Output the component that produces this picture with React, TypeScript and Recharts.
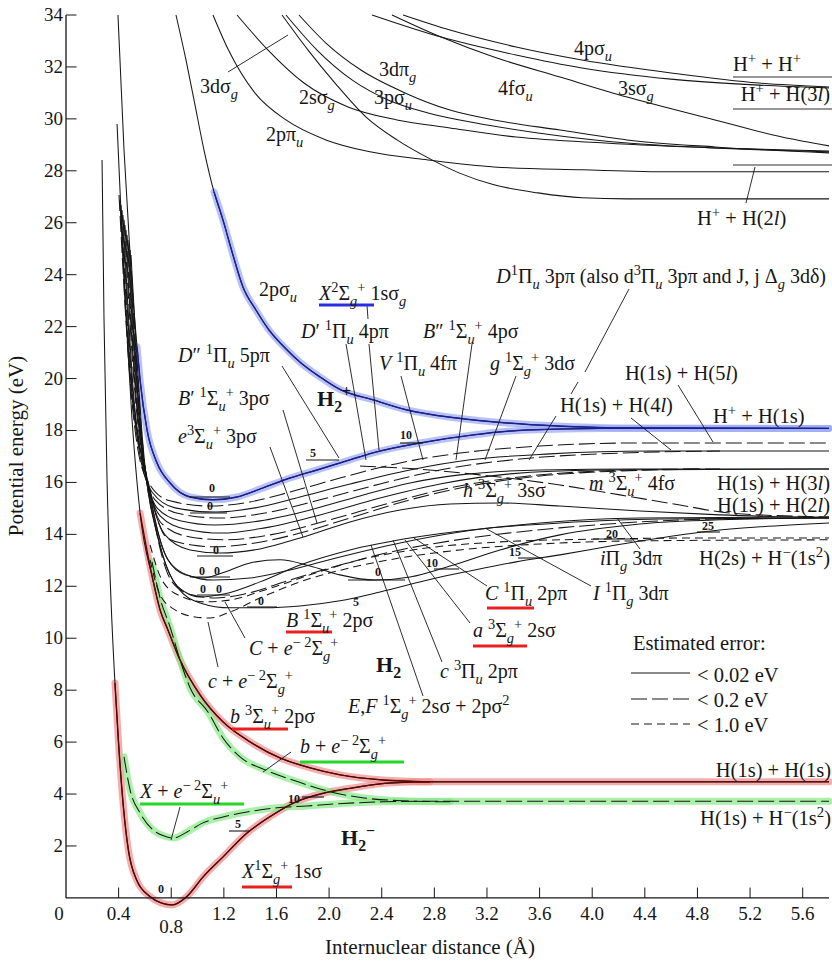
import React from "react";
import { LineChart, Line, XAxis, YAxis, ReferenceLine } from "recharts";

const FONT = "'Liberation Serif', 'Times New Roman', Times, serif";
const INK = "#161616";
const MED = "16 5"; // < 0.2 eV
const SHORT = "8 5"; // < 1.0 eV

// Potential curves as [R (Å), E (eV)].
// H2 ground state X 1Σg+ 1sσ
const h2X = [[0.274,28.42],[0.289,22.26],[0.312,16.1],[0.342,11.47],[0.372,8.28],[0.398,6.08],[0.436,3.52],[0.474,1.85],[0.537,0.69],[0.639,0.05],[0.727,-0.2],[0.806,-0.27],[0.918,0.05],[1.044,0.82],[1.196,1.59],[1.374,2.49],[1.551,3.13],[1.754,3.71],[1.956,4.03],[2.159,4.22],[2.478,4.43],[2.767,4.47],[5.8,4.47]];
// b 3Σu+ 2pσ (repulsive)
const h2b = [[0.388,29.8],[0.448,23.03],[0.502,18.41],[0.563,14.82],[0.661,12.24],[0.715,11.09],[0.775,10.32],[0.867,9.16],[1.019,7.82],[1.193,6.78],[1.399,6.01],[1.627,5.39],[1.855,5.01],[2.083,4.74],[2.41,4.54],[2.767,4.47]];
// H2- resonances
const anionX = [[0.441,5.43],[0.487,4.16],[0.563,3.27],[0.661,2.62],[0.768,2.35],[0.821,2.31],[0.92,2.54],[1.041,2.89],[1.193,3.12],[1.376,3.31],[1.604,3.47],[1.832,3.54],[2.052,3.62],[2.41,3.7],[2.767,3.72],[5.8,3.72]];
const anionB = [[0.654,12.94],[0.715,11.55],[0.791,10.44],[0.867,9.16],[0.943,8.09],[1.079,7.16],[1.193,6.16],[1.323,5.43],[1.513,4.93],[1.764,4.47],[2.014,4.08],[2.265,3.85],[2.554,3.74],[2.919,3.7]];
// H2+ states
const ion1sg = [[0.395,34],[0.441,28.8],[0.494,24.18],[0.54,21.22],[0.563,19.95],[0.616,18.02],[0.692,16.75],[0.791,15.98],[0.943,15.44],[1.117,15.33],[1.3,15.44],[1.498,15.79],[1.703,16.17],[1.908,16.48],[2.159,16.87],[2.334,17.14],[2.691,17.52],[3.094,17.83],[3.504,18.02],[4.059,18.08],[5.8,18.08]];
const ion2psu = [[0.836,34],[0.912,32.27],[0.973,30.73],[1.049,28.8],[1.125,27.19],[1.193,26.11],[1.269,24.76],[1.345,23.53],[1.444,22.64],[1.543,21.87],[1.665,21.18],[1.786,20.6],[1.931,20.06],[2.09,19.56],[2.334,19.18],[2.592,18.79],[2.972,18.48],[3.352,18.29],[3.732,18.17],[4.211,18.1],[5.8,18.08]];
const ion2ppu = [[1.117,34],[1.235,32.65],[1.437,30.99],[1.672,29.96],[1.976,29.19],[2.311,28.73],[2.752,28.42],[3.253,28.15],[3.922,28.04],[4.599,27.96],[5.8,27.96]];
const ion2ssg = [[1.3,34],[1.536,32.65],[1.809,31.38],[2.144,30.46],[2.516,29.96],[2.919,29.65],[3.421,29.3],[4.097,29.07],[4.933,28.88],[5.8,28.76]];
const ion3dsg = [[1.642,34],[1.84,32.65],[2.045,31.38],[2.281,30.07],[2.516,29.19],[2.782,28.42],[2.987,27.92],[3.253,27.46],[3.588,27.15],[3.922,26.96],[4.265,26.92],[5.8,26.92]];
const ion3psu = [[1.672,34],[1.908,32.65],[2.174,31.5],[2.448,30.73],[2.752,30.23],[3.117,29.84],[3.588,29.46],[4.265,29.07],[4.933,28.88],[5.8,28.73]];
const ion3dpg = [[1.771,34],[1.976,32.92],[2.242,31.88],[2.577,31],[2.919,30.34],[3.253,29.96],[3.755,29.57],[4.265,29.19],[4.933,28.92],[5.8,28.69]];
const ion4psu = [[2.326,34],[2.851,33.15],[3.421,32.46],[3.922,31.96],[4.599,31.53],[5.268,31.3],[5.8,31.19]];
const ion4fsu = [[2.478,34],[2.851,33.15],[3.253,32.38],[3.755,31.61],[4.265,30.84],[4.933,29.96],[5.443,29.3],[5.8,28.96]];
const ion3ssg = [[2.562,34],[2.919,33.42],[3.421,32.77],[3.922,32.27],[4.599,31.77],[5.268,31.38],[5.8,31.23]];
// H2 Rydberg states, n = 5, 4, 3
const ryD5 = [[0.403,27.07],[0.487,19.95],[0.547,17.25],[0.639,15.9],[0.791,15.29],[1.095,15.09],[1.399,15.25],[1.703,15.63],[2.083,16.17],[2.539,16.75],[2.995,17.13],[3.603,17.4],[4.363,17.52],[5.8,17.52]];
const ryD4 = [[0.41,26.88],[0.494,19.75],[0.563,17.02],[0.654,15.63],[0.829,15.02],[1.133,14.86],[1.437,15.02],[1.779,15.44],[2.159,15.94],[2.615,16.48],[3.071,16.87],[3.679,17.1],[4.439,17.21],[5.8,17.21]];
const ryB4 = [[0.418,26.68],[0.502,19.56],[0.578,16.79],[0.677,15.33],[0.867,14.79],[1.171,14.63],[1.513,14.82],[1.931,15.33],[2.387,15.94],[2.843,16.48],[3.451,16.9],[4.211,17.13],[4.971,17.21]];
const ryD3 = [[0.426,26.49],[0.509,19.37],[0.593,16.56],[0.692,15.02],[0.867,14.52],[1.133,14.36],[1.475,14.52],[1.855,14.94],[2.235,15.48],[2.615,15.98],[2.995,16.29],[3.603,16.48],[4.363,16.52],[5.8,16.52]];
const ryB3 = [[0.433,26.3],[0.517,19.18],[0.608,16.25],[0.715,14.71],[0.905,14.21],[1.186,14.05],[1.513,14.25],[1.931,14.75],[2.387,15.4],[2.843,15.94],[3.375,16.33],[4.059,16.48],[5.8,16.52]];
const ryE3 = [[0.441,26.11],[0.532,18.98],[0.623,15.94],[0.73,14.4],[0.943,13.9],[1.209,13.79],[1.551,13.98],[2.007,14.56],[2.463,15.21],[2.919,15.79],[3.451,16.21],[4.059,16.44],[4.819,16.52]];
const ryH3 = [[0.448,25.91],[0.54,18.79],[0.639,15.63],[0.753,13.98],[0.943,13.4],[1.171,13.28],[1.475,13.44],[1.779,13.86],[2.159,14.48],[2.539,14.94],[2.919,15.17],[3.299,15.21],[3.755,15.09],[4.363,14.9],[4.971,14.75],[5.8,14.63]];
const ryG3 = [[0.456,25.72],[0.547,18.6],[0.654,15.4],[0.768,13.86],[0.958,13.59],[1.133,13.52],[1.437,13.67],[1.779,14.05],[2.159,14.63],[2.615,15.33],[3.071,15.86],[3.603,16.25],[4.211,16.44],[4.971,16.52]];
const ryM = [[2.235,16.63],[2.539,16.56],[3.147,16.29],[3.755,15.9],[4.211,15.52],[4.667,15.13],[5.047,14.82],[5.8,14.67]];
// n = 2 states
const stC = [[0.464,25.53],[0.555,18.41],[0.661,14.94],[0.775,13.02],[0.943,12.4],[1.117,12.24],[1.399,12.32],[1.703,12.63],[2.083,13.13],[2.539,13.67],[2.995,14.09],[3.603,14.44],[4.363,14.63],[5.8,14.67]];
const stEF = [[0.471,25.34],[0.563,18.21],[0.669,14.75],[0.775,13.02],[0.905,12.44],[1.041,12.32],[1.209,12.55],[1.399,12.9],[1.627,13.02],[1.855,12.78],[2.083,12.44],[2.349,12.24],[2.615,12.36],[2.919,12.78],[3.299,13.4],[3.755,13.98],[4.363,14.4],[4.971,14.56],[5.8,14.63]];
const stA = [[0.479,25.14],[0.57,17.94],[0.677,14.36],[0.791,12.44],[0.905,11.78],[1.019,11.59],[1.209,11.71],[1.475,12.17],[1.779,12.82],[2.159,13.4],[2.615,13.86],[3.147,14.21],[3.755,14.44],[4.515,14.59],[5.8,14.63]];
const stc = [[0.487,24.95],[0.578,17.71],[0.692,13.98],[0.806,12.17],[0.958,11.67],[1.133,11.55],[1.361,11.71],[1.703,12.24],[2.083,12.82],[2.539,13.4],[3.071,13.86],[3.755,14.25],[4.515,14.52],[5.276,14.63]];
const stB = [[0.494,24.76],[0.585,17.44],[0.715,13.59],[0.851,11.94],[1.019,11.36],[1.247,11.17],[1.513,11.17],[1.779,11.24],[2.083,11.44],[2.387,11.78],[2.782,12.28],[3.071,12.59],[3.421,12.94],[3.755,13.21],[4.181,13.59],[4.515,13.86],[4.903,14.13],[5.276,14.29],[5.8,14.44]];
const resC = [[0.639,13.59],[0.73,12.24],[0.867,11.63],[1.057,11.4],[1.247,11.47],[1.513,11.86],[1.855,12.44],[2.235,13.02],[2.691,13.44],[3.299,13.71],[4.059,13.82],[4.819,13.86],[5.8,13.86]];
const resc = [[0.639,13.02],[0.715,11.67],[0.829,11.09],[0.981,10.82],[1.095,10.78],[1.247,11.01],[1.475,11.55],[1.779,12.17],[2.159,12.71],[2.539,13.09],[2.995,13.4],[3.603,13.63],[4.363,13.75],[5.8,13.79]];

const xTicks = [0, 0.4, 0.8, 1.2, 1.6, 2.0, 2.4, 2.8, 3.2, 3.6, 4.0, 4.4, 4.8, 5.2, 5.6];
const yTicks = [2, 4, 6, 8, 10, 12, 14, 16, 18, 20, 22, 24, 26, 28, 30, 32, 34];

const rows = (pts: number[][]) => pts.map(([r, e]) => ({ r, e }));

const curves: { id: string; pts: number[][]; dash?: string }[] = [
  { id: "ion2ppu", pts: ion2ppu }, { id: "ion2ssg", pts: ion2ssg }, { id: "ion3dsg", pts: ion3dsg },
  { id: "ion3psu", pts: ion3psu }, { id: "ion3dpg", pts: ion3dpg }, { id: "ion4psu", pts: ion4psu },
  { id: "ion4fsu", pts: ion4fsu }, { id: "ion3ssg", pts: ion3ssg },
  { id: "ryD5", pts: ryD5, dash: MED }, { id: "ryD4", pts: ryD4 }, { id: "ryB4", pts: ryB4, dash: MED },
  { id: "ryD3", pts: ryD3 }, { id: "ryB3", pts: ryB3 }, { id: "ryE3", pts: ryE3, dash: MED },
  { id: "ryH3", pts: ryH3 }, { id: "ryG3", pts: ryG3, dash: MED }, { id: "ryM", pts: ryM, dash: MED },
  { id: "stC", pts: stC }, { id: "stEF", pts: stEF }, { id: "stA", pts: stA },
  { id: "stc", pts: stc, dash: MED }, { id: "stB", pts: stB },
  { id: "resC", pts: resC, dash: SHORT }, { id: "resc", pts: resc, dash: SHORT },
  { id: "h2X", pts: h2X }, { id: "h2b", pts: h2b },
  { id: "ion1sg", pts: ion1sg }, { id: "ion2psu", pts: ion2psu },
  { id: "anionX", pts: anionX, dash: MED }, { id: "anionB", pts: anionB, dash: MED },
];

// coloured marker highlights
const highlights = [
  { id: "hX", pts: h2X.filter((p) => p[0] >= 0.372), color: "#f08a8a", line: "#5a0606" },
  { id: "hb", pts: h2b.filter((p) => p[0] >= 0.563), color: "#f08a8a", line: "#5a0606" },
  { id: "hAX", pts: anionX, color: "#86e886", line: "" },
  { id: "hAB", pts: anionB, color: "#86e886", line: "" },
  { id: "h1s", pts: ion1sg.filter((p) => p[0] >= 0.54), color: "#98a6f2", line: "#1b1f96" },
  { id: "h2p", pts: ion2psu.filter((p) => p[0] >= 1.125), color: "#98a6f2", line: "#1b1f96" },
];

type Lbl = { x: number; y: number; s: string; a?: "end"; b?: boolean; f?: number };
const labels: Lbl[] = [
  { x: 200, y: 93, s: "3dσ_{*g*}" },
  { x: 299, y: 104, s: "2sσ_{*g*}" },
  { x: 374, y: 104, s: "3pσ_{*u*}" },
  { x: 379, y: 76, s: "3dπ_{*g*}" },
  { x: 266, y: 141, s: "2pπ_{*u*}" },
  { x: 498, y: 95, s: "4fσ_{*u*}" },
  { x: 618, y: 95, s: "3sσ_{*g*}" },
  { x: 574, y: 55, s: "4pσ_{*u*}" },
  { x: 733, y: 71, s: "H^{+} + H^{+}", f: 20.5 },
  { x: 830, y: 101, s: "H^{+} + H(3*l*)", a: "end", f: 20.5 },
  { x: 697, y: 225, s: "H^{+} + H(2*l*)", f: 20.5 },
  { x: 259, y: 296, s: "2pσ_{*u*}" },
  { x: 319, y: 300, s: "*X*^{2}Σ_{*g*}^{+} 1sσ_{*g*}" },
  { x: 301, y: 338, s: "*D*′ ^{1}Π_{*u*} 4pπ" },
  { x: 423, y: 338, s: "*B*″ ^{1}Σ_{*u*}^{+} 4pσ" },
  { x: 178, y: 362, s: "*D*″ ^{1}Π_{*u*} 5pπ" },
  { x: 379, y: 370, s: "*V* ^{1}Π_{*u*} 4fπ" },
  { x: 490, y: 370, s: "*g* ^{1}Σ_{*g*}^{+} 3dσ" },
  { x: 826, y: 283, s: "*D*^{1}Π_{*u*} 3pπ (also d^{3}Π_{*u*} 3pπ and J, j Δ_{*g*} 3dδ)", a: "end", f: 20 },
  { x: 178, y: 405, s: "*B*′ ^{1}Σ_{*u*}^{+} 3pσ" },
  { x: 317, y: 406, s: "H_{2}^{+}", b: true },
  { x: 625, y: 380, s: "H(1s) + H(5*l*)", f: 20.5 },
  { x: 560, y: 412, s: "H(1s) + H(4*l*)", f: 20.5 },
  { x: 713, y: 423, s: "H^{+} + H(1s)", f: 20.5 },
  { x: 178, y: 443, s: "*e*^{3}Σ_{*u*}^{+} 3pσ" },
  { x: 463, y: 497, s: "*h* ^{3}Σ_{*g*}^{+} 3sσ" },
  { x: 589, y: 490, s: "*m* ^{3}Σ_{*u*}^{+} 4fσ" },
  { x: 830, y: 490, s: "H(1s) + H(3*l*)", a: "end", f: 20.5 },
  { x: 830, y: 512, s: "H(1s) + H(2*l*)", a: "end", f: 20.5 },
  { x: 600, y: 565, s: "*i*Π_{*g*} 3dπ" },
  { x: 830, y: 565, s: "H(2s) + H^{−}(1s^{2})", a: "end", f: 20.5 },
  { x: 485, y: 600, s: "*C* ^{1}Π_{*u*} 2pπ" },
  { x: 593, y: 600, s: "*I* ^{1}Π_{*g*} 3dπ" },
  { x: 286, y: 627, s: "*B* ^{1}Σ_{*u*}^{+} 2pσ" },
  { x: 473, y: 637, s: "*a* ^{3}Σ_{*g*}^{+} 2sσ" },
  { x: 249, y: 655, s: "*C* + *e*^{− 2}Σ_{*g*}^{+}" },
  { x: 376, y: 672, s: "H_{2}", b: true },
  { x: 440, y: 678, s: "*c* ^{3}Π_{*u*} 2pπ" },
  { x: 208, y: 688, s: "*c* + *e*^{− 2}Σ_{*g*}^{+}" },
  { x: 348, y: 713, s: "*E*,*F* ^{1}Σ_{*g*}^{+} 2sσ + 2pσ^{2}" },
  { x: 230, y: 723, s: "*b* ^{3}Σ_{*u*}^{+} 2pσ" },
  { x: 300, y: 753, s: "*b* + *e*^{− 2}Σ_{*g*}^{+}" },
  { x: 140, y: 798, s: "*X* + *e*^{− 2}Σ_{*u*}^{+}" },
  { x: 831, y: 777, s: "H(1s) + H(1s)", a: "end", f: 20.5 },
  { x: 831, y: 825, s: "H(1s) + H^{−}(1s^{2})", a: "end", f: 20.5 },
  { x: 341, y: 845, s: "H_{2}^{−}", b: true },
  { x: 242, y: 878, s: "*X*^{1}Σ_{*g*}^{+} 1sσ" },
  { x: 633, y: 650, s: "Estimated error:", f: 20.5 },
  { x: 697, y: 682, s: "< 0.02 eV", f: 20.5 },
  { x: 697, y: 707, s: "< 0.2 eV", f: 20.5 },
  { x: 697, y: 732, s: "< 1.0 eV", f: 20.5 },
];

const underlines = [
  { x1: 319, x2: 374, y: 305, c: "#2a2ee0" },
  { x1: 487, x2: 534, y: 608, c: "#e8201e" },
  { x1: 286, x2: 332, y: 632, c: "#e8201e" },
  { x1: 473, x2: 527, y: 646, c: "#e8201e" },
  { x1: 232, x2: 288, y: 729, c: "#e8201e" },
  { x1: 242, x2: 292, y: 887, c: "#e8201e" },
  { x1: 300, x2: 404, y: 762, c: "#22d822" },
  { x1: 140, x2: 244, y: 804, c: "#22d822" },
];

const leaders = [
  [228, 72, 288, 35], [755, 167, 746, 203], [367, 305, 368, 319], [282, 366, 339, 458],
  [346, 344, 366, 460], [369, 344, 379, 450], [472, 344, 456, 460], [401, 376, 423, 460],
  [516, 376, 485, 460], [629, 289, 585, 372], [578, 382, 571, 394], [678, 385, 713, 442],
  [556, 416, 529, 460], [631, 418, 671, 450], [283, 410, 317, 523], [270, 447, 303, 537],
  [487, 586, 414, 538], [470, 623, 405, 540], [442, 662, 393, 540], [423, 696, 371, 545],
  [591, 586, 485, 528], [640, 549, 617, 518], [291, 752, 263, 772], [180, 807, 171, 840],
  [218, 667, 208, 622], [245, 638, 225, 602],
  // asymptote levels
  [733, 77, 832, 77], [733, 109, 832, 109], [733, 165, 832, 165],
];

const vibNums = [
  { t: "0", x: 161, y: 893 }, { t: "5", x: 238, y: 828 }, { t: "10", x: 294, y: 803 },
  { t: "5", x: 313, y: 457 }, { t: "10", x: 406, y: 439 }, { t: "0", x: 212, y: 492 },
  { t: "0", x: 210, y: 510 }, { t: "0", x: 216, y: 554 }, { t: "0", x: 202, y: 575 },
  { t: "0", x: 217, y: 575 }, { t: "0", x: 203, y: 593 }, { t: "0", x: 219, y: 593 },
  { t: "0", x: 261, y: 605 }, { t: "0", x: 378, y: 576 }, { t: "10", x: 432, y: 567 },
  { t: "15", x: 515, y: 556 }, { t: "20", x: 612, y: 538 }, { t: "25", x: 708, y: 530 },
  { t: "5", x: 356, y: 606 },
];
const vibLines = [
  [229, 831, 250, 831], [302, 797, 324, 797], [306, 460, 339, 460], [400, 443, 423, 443],
  [190, 497, 230, 497], [190, 513, 227, 513], [197, 556, 233, 556], [190, 577, 230, 577],
  [197, 595, 230, 595], [247, 607, 277, 607], [348, 580, 405, 580], [434, 569, 459, 569],
  [518, 558, 543, 558], [593, 539, 638, 539], [697, 532, 720, 532],
];

function parse(s: string) {
  const out: { t: string; it: boolean; pos: number }[] = [];
  let it = false;
  let pos = 0;
  let buf = "";
  const flush = () => {
    if (buf) out.push({ t: buf, it, pos });
    buf = "";
  };
  for (let i = 0; i < s.length; i++) {
    const c = s[i];
    if (c === "*") {
      flush();
      it = !it;
    } else if ((c === "^" || c === "_") && s[i + 1] === "{") {
      flush();
      pos = c === "^" ? 1 : -1;
      i++;
    } else if (c === "}" && pos !== 0) {
      flush();
      pos = 0;
    } else buf += c;
  }
  flush();
  return out;
}

function Rich({ l }: { l: Lbl }) {
  const size = l.f ?? (l.b ? 22 : 20);
  let cur = 0;
  return (
    <text x={l.x} y={l.y} fontSize={size} textAnchor={l.a === "end" ? "end" : "start"}
      fontWeight={l.b ? "bold" : "normal"} fill={INK} style={{ whiteSpace: "pre" }}>
      {parse(l.s).map((p, i) => {
        const target = p.pos === 1 ? -0.4 * size : p.pos === -1 ? 0.28 * size : 0;
        const dy = target - cur;
        cur = target;
        return (
          <tspan key={i} dy={dy} fontSize={p.pos ? size * 0.72 : size} fontStyle={p.it ? "italic" : "normal"}>
            {p.t}
          </tspan>
        );
      })}
    </text>
  );
}

function XTick(props: any) {
  const { x, payload } = props;
  const v = payload.value as number;
  const lowered = Math.abs(v - 0.8) < 1e-6;
  return (
    <text x={x + (v === 0 ? -7 : 0)} y={lowered ? 933 : 920} textAnchor="middle" fontSize={19} fontFamily={FONT} fill={INK}>
      {v === 0 ? "0" : v.toFixed(1)}
    </text>
  );
}

function YTick(props: any) {
  const { y, payload } = props;
  return (
    <text x={63} y={y + 6} textAnchor="end" fontSize={19} fontFamily={FONT} fill={INK}>
      {payload.value}
    </text>
  );
}

export default function App() {
  return (
    <div style={{ position: "absolute", left: 0, top: 0, width: 832, height: 966, background: "#fff", fontFamily: FONT }}>
      <LineChart width={832} height={966} margin={{ top: 15, right: 3, bottom: 0, left: 8 }}>
        <XAxis type="number" dataKey="r" domain={[0, 5.8]} ticks={xTicks} interval={0} height={59}
          axisLine={false} tickLine={false} tick={<XTick />} />
        <YAxis type="number" dataKey="e" domain={[-0.35, 34]} ticks={yTicks} interval={0} width={58}
          axisLine={false} tickLine={false} tick={<YTick />} />
        {highlights.map((h) => (
          <Line key={h.id} data={rows(h.pts)} dataKey="e" type="monotone" stroke={h.color} strokeOpacity={0.7}
            strokeWidth={7} strokeLinecap="round" dot={false} activeDot={false} isAnimationActive={false} />
        ))}
        {curves.map((c) => (
          <Line key={c.id} data={rows(c.pts)} dataKey="e" type="monotone" stroke={INK} strokeWidth={1.05}
            strokeDasharray={c.dash} dot={false} activeDot={false} isAnimationActive={false} />
        ))}
        {highlights.filter((h) => h.line).map((h) => (
          <Line key={h.id + "-ink"} data={rows(h.pts)} dataKey="e" type="monotone" stroke={h.line} strokeWidth={1.4}
            dot={false} activeDot={false} isAnimationActive={false} />
        ))}
        <ReferenceLine segment={[{ x: 0, y: 0 }, { x: 0, y: 34 }]} stroke={INK} strokeWidth={1.3} ifOverflow="visible" />
        <ReferenceLine segment={[{ x: 0, y: 0 }, { x: 5.8, y: 0 }]} stroke={INK} strokeWidth={1.3} ifOverflow="visible" />
        {xTicks.slice(1).map((t) => (
          <ReferenceLine key={"xt" + t} segment={[{ x: t, y: 0 }, { x: t, y: 0.4 }]} stroke={INK} strokeWidth={1} ifOverflow="visible" />
        ))}
        {yTicks.map((t) => (
          <ReferenceLine key={"yt" + t} segment={[{ x: 0, y: t }, { x: 0.08, y: t }]} stroke={INK} strokeWidth={1} ifOverflow="visible" />
        ))}
      </LineChart>
      <svg width={832} height={966} style={{ position: "absolute", left: 0, top: 0, pointerEvents: "none" }} fontFamily={FONT}>
        {leaders.map((l, i) => (
          <line key={"ld" + i} x1={l[0]} y1={l[1]} x2={l[2]} y2={l[3]} stroke={INK} strokeWidth={0.9} />
        ))}
        {underlines.map((u, i) => (
          <line key={"ul" + i} x1={u.x1} y1={u.y} x2={u.x2} y2={u.y} stroke={u.c} strokeWidth={3} />
        ))}
        {vibLines.map((l, i) => (
          <line key={"vl" + i} x1={l[0]} y1={l[1]} x2={l[2]} y2={l[3]} stroke={INK} strokeWidth={1.1} />
        ))}
        {vibNums.map((n, i) => (
          <text key={"vn" + i} x={n.x} y={n.y} textAnchor="middle" fontSize={12} fontWeight="bold" fill={INK}>{n.t}</text>
        ))}
        {labels.map((l, i) => (
          <Rich key={"lb" + i} l={l} />
        ))}
        <line x1={631} y1={673} x2={690} y2={673} stroke={INK} strokeWidth={1.2} />
        <line x1={631} y1={699} x2={690} y2={699} stroke={INK} strokeWidth={1.2} strokeDasharray={MED} />
        <line x1={631} y1={724} x2={690} y2={724} stroke={INK} strokeWidth={1.2} strokeDasharray={SHORT} />
        <text transform="translate(23,446) rotate(-90)" textAnchor="middle" fontSize={21} fill={INK}>Potential energy (eV)</text>
        <text x={430} y={954} textAnchor="middle" fontSize={21} fill={INK}>Internuclear distance (Å)</text>
      </svg>
    </div>
  );
}
